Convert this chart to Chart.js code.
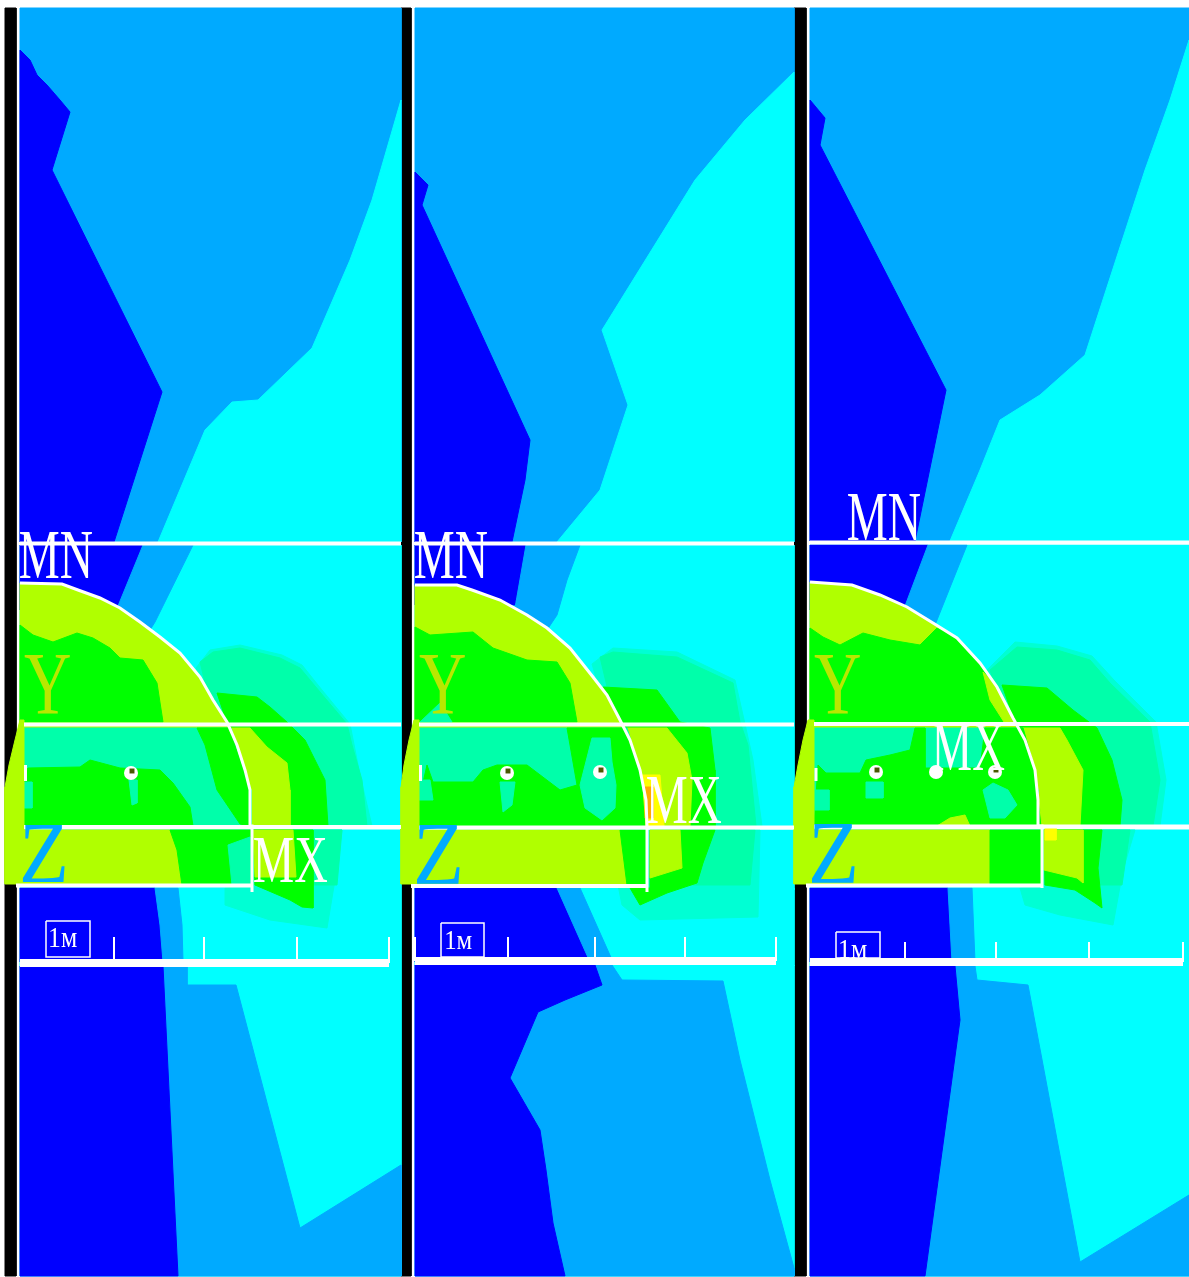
<!DOCTYPE html>
<html>
<head>
<meta charset="utf-8">
<title>Contour panels</title>
<script src="https://cdn.jsdelivr.net/npm/chart.js@4"></script>
<style>
  html, body { margin: 0; padding: 0; background: #fff; }
  canvas { display: block; }
</style>
</head>
<body>
<canvas id="chart" width="1189" height="1277"></canvas>
<script>
// colour bands of the contour plot
const DARK = '#0000ff', MID = '#00aaff', CYAN = '#00ffff', TEAL = '#00ffaa', PALE = '#00ffd4',
      GREEN = '#00ff00', LIME = '#b0ff00', YELLOW = '#ffff00', ORANGE = '#ffaa00', BLACK = '#000000';

// ---- panel 1 ----
const p1Top = [20,8, 401,8, 401,542, 20,542];
const p1TopDark = [20,50, 30,60, 37,75, 47,85, 60,100, 70,112, 52,170, 162,392, 114,542, 20,542];
const p1TopCyan = [401,100, 372,200, 350,260, 312,348, 258,400, 232,402, 205,430, 158,542, 401,542];
const p1Mid = [20,545, 401,545, 401,826, 20,826];
const p1MidDark = [20,545, 143,545, 120,610, 20,610];
const p1MidBlue = [143,545, 193,545, 155,622, 150,630, 118,606];
const p1Pale = [196,668, 210,650, 240,645, 282,655, 302,665, 322,690, 350,724, 360,775, 372,826, 240,826];
const p1TealRing = [200,662, 213,652, 240,648, 280,658, 300,668, 320,692, 347,724, 352,745, 362,780, 367,826, 240,826];
const p1OuterGreen = [217,693, 257,697, 270,707, 287,722, 305,740, 315,760, 325,780, 328,826, 250,826, 228,726];
const p1OuterLime = [230,728, 250,728, 267,747, 287,763, 290,790, 290,826, 251,826, 248,790];
const p1Arc = [20,583, 62,584, 78,590, 100,598, 120,608, 140,622, 160,637, 180,653, 200,677, 213,700, 227,722, 237,745, 245,770, 250,790, 251,826, 20,826];
const p1ArcGreen = [20,625, 33,635, 53,642, 77,633, 93,638, 110,648, 120,658, 143,660, 157,683, 163,722, 20,722];
const p1BandTeal = [20,728, 231,728, 251,790, 251,826, 20,826];
const p1BandGreen = [28,768, 80,767, 90,760, 120,768, 160,770, 173,783, 190,807, 193,826, 24,826, 24,775];
const p1ArcBand = [197,728, 229,728, 240,760, 250,790, 250,826, 240,824, 217,790, 205,745];
const p1TealA = [24,782, 32,782, 32,808, 24,808];
const p1TealB = [129,780, 137,780, 137,803, 132,805];
const p1Base = [20,830, 401,830, 401,888, 20,888];
const p1BaseLime = [20,830, 170,830, 177,850, 182,885, 20,885];
const p1BaseGreen = [170,830, 252,830, 252,885, 182,885, 177,850];
const p1BaseTeal = [228,845, 250,837, 252,885, 232,885];
const p1LowPale = [253,830, 342,830, 335,880, 327,928, 270,920, 225,905, 225,888, 253,885];
const p1LowTeal = [253,830, 342,830, 337,885, 253,885];
const p1LowGreen = [253,830, 313,830, 313,908, 302,907, 290,900, 255,885];
const p1LowLime = [253,830, 293,830, 296,877, 255,877];
const p1LowDark = [20,888, 155,888, 160,925, 163,962, 20,962];
const p1LowBlue = [155,888, 178,888, 182,925, 183,962, 163,962, 160,925];
const p1Foot = [20,966, 401,966, 401,1276, 20,1276];
const p1FootBlue = [163,966, 187,966, 187,985, 236,985, 300,1228, 401,1165, 401,1276, 178,1276];
const p1FootDark = [20,966, 163,966, 178,1276, 20,1276];
const p1Wedge = [20,720, 15,740, 9,765, 5,787, 5,884, 24,884, 24,720];

// ---- panel 2 ----
const p2Top = [415,8, 794,8, 794,542, 415,542];
const p2TopDark = [415,172, 428,185, 422,205, 530,440, 525,480, 512,542, 415,542];
const p2TopCyan = [794,72, 745,120, 695,180, 602,330, 628,405, 600,490, 557,542, 794,542];
const p2Mid = [415,545, 794,545, 794,826, 415,826];
const p2MidDark = [415,545, 526,545, 520,580, 515,605, 415,605];
const p2MidBlue = [526,545, 580,545, 567,580, 557,615, 547,630, 515,608];
const p2Pale = [592,664, 613,648, 677,652, 735,680, 745,724, 753,760, 762,826, 640,826];
const p2TealRing = [600,657, 613,652, 677,657, 733,683, 740,722, 748,745, 756,826, 640,826];
const p2OuterGreen = [603,687, 657,690, 680,722, 710,728, 715,770, 715,826, 647,826, 620,722];
const p2OuterLime = [627,728, 667,728, 687,753, 692,780, 690,826, 647,826];
const p2Arc = [415,585, 457,585, 472,590, 500,600, 527,615, 547,628, 570,648, 593,677, 607,695, 620,720, 630,740, 640,770, 647,826, 415,826];
const p2ArcGreen = [415,627, 430,635, 473,632, 493,648, 527,660, 557,662, 570,683, 577,722, 415,722];
const p2ArcTeal = [420,722, 440,703, 452,722];
const p2BandTeal = [415,728, 627,728, 640,770, 647,826, 415,826];
const p2BandGreen = [427,765, 433,782, 473,782, 483,770, 497,765, 527,765, 560,790, 577,785, 570,745, 567,728, 625,728, 640,770, 646,826, 419,826, 419,800];
const p2TealA = [419,780, 430,780, 433,800, 419,800];
const p2TealB = [500,782, 515,782, 512,805, 503,812];
const p2TealC = [592,738, 610,738, 612,762, 616,785, 615,808, 602,820, 585,808, 580,785];
const p2Hot = [642,775, 660,775, 664,826, 646,826];
const p2Spot = [645,787, 653,787, 653,818, 645,818];
const p2Base = [415,830, 794,830, 794,890, 415,890];
const p2BaseLime = [415,830, 620,830, 627,885, 415,885];
const p2BaseGreen = [620,830, 647,830, 647,885, 627,885];
const p2LowPale = [650,830, 760,830, 758,917, 640,920, 622,905, 618,885, 648,885];
const p2LowTeal = [650,830, 755,830, 750,885, 650,885];
const p2LowGreen = [650,830, 715,830, 703,863, 697,883, 667,893, 640,905, 630,888, 650,888];
const p2LowLime = [650,830, 680,830, 682,868, 650,878];
const p2LowDark = [415,888, 557,888, 590,962, 415,962];
const p2LowBlue = [557,888, 580,888, 613,962, 590,962];
const p2Foot = [415,965, 794,965, 794,1276, 415,1276];
const p2FootBlue = [600,965, 622,980, 723,981, 740,1060, 750,1100, 770,1180, 794,1268, 794,1276, 565,1276, 553,1223, 546,1170, 540,1130, 510,1078, 538,1012];
const p2FootDark = [415,965, 595,965, 602,985, 565,1000, 538,1012, 510,1078, 540,1130, 546,1170, 553,1223, 565,1276, 415,1276];
const p2FootBlue2 = [595,965, 612,965, 622,980, 602,990];
const p2Wedge = [414,720, 409,740, 404,765, 401,787, 401,884, 419,884, 419,720];

// ---- panel 3 ----
const p3Top = [810,8, 1189,8, 1189,541, 810,541];
const p3TopDark = [810,100, 825,118, 820,145, 946,390, 915,541, 810,541];
const p3TopCyan = [1189,40, 1170,100, 1145,170, 1085,355, 1040,395, 1000,420, 980,470, 950,541, 1189,541];
const p3Mid = [810,545, 1189,545, 1189,826, 810,826];
const p3MidDark = [810,545, 928,545, 905,610, 810,610];
const p3MidBlue = [928,545, 967,545, 945,600, 935,625, 905,606];
const p3Pale = [985,672, 1015,642, 1057,646, 1092,656, 1114,680, 1156,722, 1166,780, 1160,826, 1040,826];
const p3TealRing = [990,670, 1017,647, 1057,650, 1090,660, 1110,683, 1150,722, 1160,780, 1153,826, 1040,826];
const p3OuterGreen = [1002,685, 1047,688, 1073,710, 1097,728, 1112,760, 1122,800, 1120,826, 1040,826, 1015,722];
const p3OuterLime = [1023,728, 1060,728, 1067,740, 1083,770, 1080,826, 1042,826, 1038,790];
const p3Arc = [810,582, 852,585, 880,595, 907,607, 933,623, 957,638, 980,663, 997,687, 1013,718, 1025,740, 1035,770, 1038,800, 1038,826, 810,826];
const p3ArcGreen = [810,628, 823,637, 840,645, 863,633, 890,640, 920,645, 937,628, 957,638, 980,663, 997,687, 1013,722, 810,722];
const p3ArcLime = [983,672, 997,687, 1013,722, 1004,722, 990,700];
const p3BandTeal = [810,728, 1023,728, 1038,790, 1038,826, 810,826];
const p3BandGreen = [818,765, 826,773, 860,773, 866,760, 890,755, 910,750, 915,728, 925,728, 925,768, 980,768, 985,728, 1023,728, 1035,770, 1038,826, 814,826];
const p3TealA = [815,790, 829,790, 829,810, 815,810];
const p3TealB = [866,782, 883,782, 883,798, 866,798];
const p3TealC = [983,790, 993,783, 1008,790, 1017,805, 1005,818, 990,818];
const p3Bump = [937,826, 950,818, 965,815, 970,826];
const p3Base = [810,830, 1189,830, 1189,888, 810,888];
const p3BaseLime = [810,830, 990,830, 990,885, 810,885];
const p3BaseGreen = [990,830, 1042,830, 1042,885, 990,885];
const p3LowPale = [1042,830, 1135,830, 1123,870, 1113,925, 1060,915, 1025,905, 1020,888, 1042,885];
const p3LowTeal = [1044,830, 1130,830, 1122,885, 1044,885];
const p3LowGreen = [1044,830, 1102,830, 1098,868, 1102,908, 1095,903, 1075,890, 1045,885];
const p3LowLime = [1044,830, 1083,830, 1083,883, 1077,878, 1044,870];
const p3Spot = [1045,828, 1056,828, 1056,840, 1045,840];
const p3LowDark = [810,888, 948,888, 952,962, 810,962];
const p3LowBlue = [948,888, 972,888, 975,962, 952,962];
const p3Foot = [810,966, 1189,966, 1189,1276, 810,1276];
const p3FootBlue = [955,966, 975,966, 977,980, 1028,985, 1080,1262, 1189,1195, 1189,1276, 925,1276];
const p3FootDark = [810,966, 955,966, 960,1020, 925,1276, 810,1276];
const p3Wedge = [808,720, 803,740, 798,765, 794,787, 794,884, 814,884, 814,720];

// side strips: white gap next to each black bar
const whiteGaps = [[16,20], [411,415], [806,810]];

// horizontal section lines [x1, x2, y] and the arc edges
const sectionLines = [
  [20,401,543.5], [24,401,724.5], [24,401,827], [16,252,885.5],
  [415,794,543.5], [419,794,724.5], [419,794,827.5], [411,647,886],
  [810,1189,542.5], [814,1189,724], [814,1189,826.5], [806,1042,885.5]
];
const arcEdges = [
  [20,583, 62,584, 78,590, 100,598, 120,608, 140,622, 160,637, 180,653, 200,677, 213,700, 227,722, 237,745, 245,770, 250,790, 250,826, 252,826, 252,892],
  [415,585, 457,585, 472,590, 500,600, 527,615, 547,628, 570,648, 593,677, 607,695, 620,720, 630,740, 640,770, 646,800, 647,826, 647,892],
  [810,582, 852,585, 880,595, 907,607, 933,623, 957,638, 980,663, 997,687, 1013,718, 1025,740, 1035,770, 1038,800, 1038,826, 1042,826, 1042,888]
];
// leftover bits of the outline inside each left wedge
const wedgeMarks = [[25.5,765,781], [420.5,765,781], [816,768,781]];

// scale bars [x1, x2, y], tick x values with tick top, and the box round the unit
const scaleBars = [[20,389,963], [415,776,961], [810,1183,962]];
const scaleTicks = [[114,204,297,389], [415,508,595,685,776], [905,996,1089,1183]];
const tickTops = [937, 937, 942];
const scaleBoxes = [[46,921,90,957], [441,923,484,957], [836,932,880,958]];

// node markers [x, y] with a dark centre, and the plain white one in panel 3
const nodeDots = [[131,773], [507,773], [600,772], [876,772], [995,772]];
const plainDots = [[936,772]];

// text [string, x1, y1, x2, y2, colour]
const labels = [
  ['MN', 20,533, 92,578, '#ffffff'], ['MX', 254,838, 328,882, '#ffffff'], ['Y', 24,655, 70,713, '#b8e800'], ['Z', 21,825, 66,882, MID], ['1м', 50,928, 77,947, '#ffffff'],
  ['MN', 415,533, 487,578, '#ffffff'], ['MX', 647,778, 722,823, '#ffffff'], ['Y', 419,655, 465,713, '#b8e800'], ['Z', 415,825, 461,883, MID], ['1м', 446,931, 472,949, '#ffffff'],
  ['MN', 848,494, 920,540, '#ffffff'], ['MX', 933,725, 1005,770, '#ffffff'], ['Y', 814,655, 860,713, '#b8e800'], ['Z', 810,824, 856,882, MID], ['1м', 840,940, 867,958, '#ffffff']
];

// painter's order: later areas cover earlier ones
const areas = [
  [BLACK, [5,8, 16,8, 16,1276, 5,1276]], [BLACK, [401,8, 411,8, 411,1276, 401,1276]], [BLACK, [794,8, 806,8, 806,1276, 794,1276]],

  [MID, p1Top], [DARK, p1TopDark], [CYAN, p1TopCyan],
  [CYAN, p1Mid], [DARK, p1MidDark], [MID, p1MidBlue], [PALE, p1Pale], [TEAL, p1TealRing], [GREEN, p1OuterGreen], [LIME, p1OuterLime],
  [LIME, p1Arc], [GREEN, p1ArcGreen], [TEAL, p1BandTeal], [GREEN, p1BandGreen], [GREEN, p1ArcBand], [TEAL, p1TealA], [TEAL, p1TealB],
  [CYAN, p1Base], [CYAN, [20,888, 401,888, 401,966, 20,966]], [PALE, p1LowPale], [TEAL, p1LowTeal], [GREEN, p1LowGreen], [LIME, p1LowLime],
  [LIME, p1BaseLime], [GREEN, p1BaseGreen], [TEAL, p1BaseTeal], [DARK, p1LowDark], [MID, p1LowBlue],
  [CYAN, p1Foot], [MID, p1FootBlue], [DARK, p1FootDark], [LIME, p1Wedge],

  [MID, p2Top], [DARK, p2TopDark], [CYAN, p2TopCyan],
  [CYAN, p2Mid], [DARK, p2MidDark], [MID, p2MidBlue], [PALE, p2Pale], [TEAL, p2TealRing], [GREEN, p2OuterGreen], [LIME, p2OuterLime],
  [LIME, p2Arc], [GREEN, p2ArcGreen], [TEAL, p2ArcTeal], [TEAL, p2BandTeal], [GREEN, p2BandGreen], [TEAL, p2TealA], [TEAL, p2TealB], [TEAL, p2TealC],
  [YELLOW, p2Hot], [ORANGE, p2Spot],
  [CYAN, p2Base], [CYAN, [415,888, 794,888, 794,966, 415,966]], [PALE, p2LowPale], [TEAL, p2LowTeal], [GREEN, p2LowGreen], [LIME, p2LowLime],
  [LIME, p2BaseLime], [GREEN, p2BaseGreen], [DARK, p2LowDark], [MID, p2LowBlue],
  [CYAN, p2Foot], [MID, p2FootBlue], [MID, p2FootBlue2], [DARK, p2FootDark], [LIME, p2Wedge],

  [MID, p3Top], [DARK, p3TopDark], [CYAN, p3TopCyan],
  [CYAN, p3Mid], [DARK, p3MidDark], [MID, p3MidBlue], [PALE, p3Pale], [TEAL, p3TealRing], [GREEN, p3OuterGreen], [LIME, p3OuterLime],
  [LIME, p3Arc], [GREEN, p3ArcGreen], [LIME, p3ArcLime], [TEAL, p3BandTeal], [GREEN, p3BandGreen], [TEAL, p3TealA], [TEAL, p3TealB], [TEAL, p3TealC], [LIME, p3Bump],
  [CYAN, p3Base], [CYAN, [810,888, 1189,888, 1189,966, 810,966]], [PALE, p3LowPale], [TEAL, p3LowTeal], [GREEN, p3LowGreen], [LIME, p3LowLime], [YELLOW, p3Spot],
  [LIME, p3BaseLime], [GREEN, p3BaseGreen], [DARK, p3LowDark], [MID, p3LowBlue],
  [CYAN, p3Foot], [MID, p3FootBlue], [DARK, p3FootDark], [LIME, p3Wedge]
];

// [x,y,x,y...] -> chart points
function toPoints(flat) {
  const out = [];
  for (let i = 0; i < flat.length; i += 2) out.push({ x: flat[i], y: flat[i + 1] });
  return out;
}

function areaDataset(color, flat) {
  const data = toPoints(flat);
  data.push(data[0]);
  return { data, showLine: true, fill: 'shape', backgroundColor: color, borderColor: color, borderWidth: 1, pointRadius: 0, tension: 0 };
}

function lineDataset(flat, width, color = '#ffffff') {
  return { data: toPoints(flat), showLine: true, fill: false, borderColor: color, borderWidth: width, pointRadius: 0, tension: 0 };
}

// the white gaps go first so the wedges can cover them
const datasets = whiteGaps.map(([a, b]) => lineDataset([(a + b) / 2, 8, (a + b) / 2, 1276], b - a));
areas.forEach(([color, flat]) => datasets.push(areaDataset(color, flat)));

sectionLines.forEach(([x1, x2, y]) => datasets.push(lineDataset([x1, y, x2, y], 4)));
arcEdges.forEach(e => datasets.push(lineDataset(e, 3)));
wedgeMarks.forEach(([x, y1, y2]) => datasets.push(lineDataset([x, y1, x, y2], 3)));
scaleBars.forEach(([x1, x2, y]) => datasets.push(lineDataset([x1, y, x2, y], 8)));
scaleTicks.forEach((ticks, i) => ticks.forEach(x => {
  datasets.push(lineDataset([x, tickTops[i], x, scaleBars[i][2]], 2));
}));
scaleBoxes.forEach(([x1, y1, x2, y2]) => datasets.push(lineDataset([x1, y1, x2, y1, x2, y2, x1, y2, x1, y1], 1.5)));

datasets.push({ data: nodeDots.concat(plainDots).map(([x, y]) => ({ x, y })), pointStyle: 'circle', pointRadius: 7, pointBackgroundColor: '#ffffff', pointBorderWidth: 0 });
datasets.push({ data: nodeDots.map(([x, y]) => ({ x: x + 1, y: y - 2 })), pointStyle: 'rect', pointRadius: 3.5, pointBackgroundColor: '#4a5a00', pointBorderWidth: 0 });

// Chart.js paints the first dataset last, so flip to get painter's order
datasets.reverse();

// stretches each label to the box it takes up in the picture
const labelPlugin = {
  id: 'labelPlugin',
  afterDatasetsDraw(chart) {
    const { ctx, scales } = chart;
    labels.forEach(([text, x1, y1, x2, y2, color]) => {
      const left = scales.x.getPixelForValue(x1), right = scales.x.getPixelForValue(x2);
      const top = scales.y.getPixelForValue(y1), bottom = scales.y.getPixelForValue(y2);
      ctx.save();
      ctx.font = '40px "Liberation Serif"';
      ctx.textBaseline = 'alphabetic';
      ctx.fillStyle = color;
      const m = ctx.measureText(text);
      const w = m.actualBoundingBoxLeft + m.actualBoundingBoxRight;
      const h = m.actualBoundingBoxAscent + m.actualBoundingBoxDescent;
      ctx.translate(left, top);
      ctx.scale((right - left) / w, (bottom - top) / h);
      ctx.fillText(text, m.actualBoundingBoxLeft, m.actualBoundingBoxAscent);
      ctx.restore();
    });
  }
};

new Chart(document.getElementById('chart').getContext('2d'), {
  type: 'scatter',
  data: { datasets },
  options: {
    responsive: false,
    animation: false,
    events: [],
    layout: { padding: 0, autoPadding: false },
    plugins: { legend: { display: false }, tooltip: { enabled: false }, title: { display: false } },
    scales: {
      x: { type: 'linear', min: 0, max: 1189, display: false },
      y: { type: 'linear', min: 0, max: 1277, reverse: true, display: false }
    }
  },
  plugins: [labelPlugin]
});
</script>
</body>
</html>
